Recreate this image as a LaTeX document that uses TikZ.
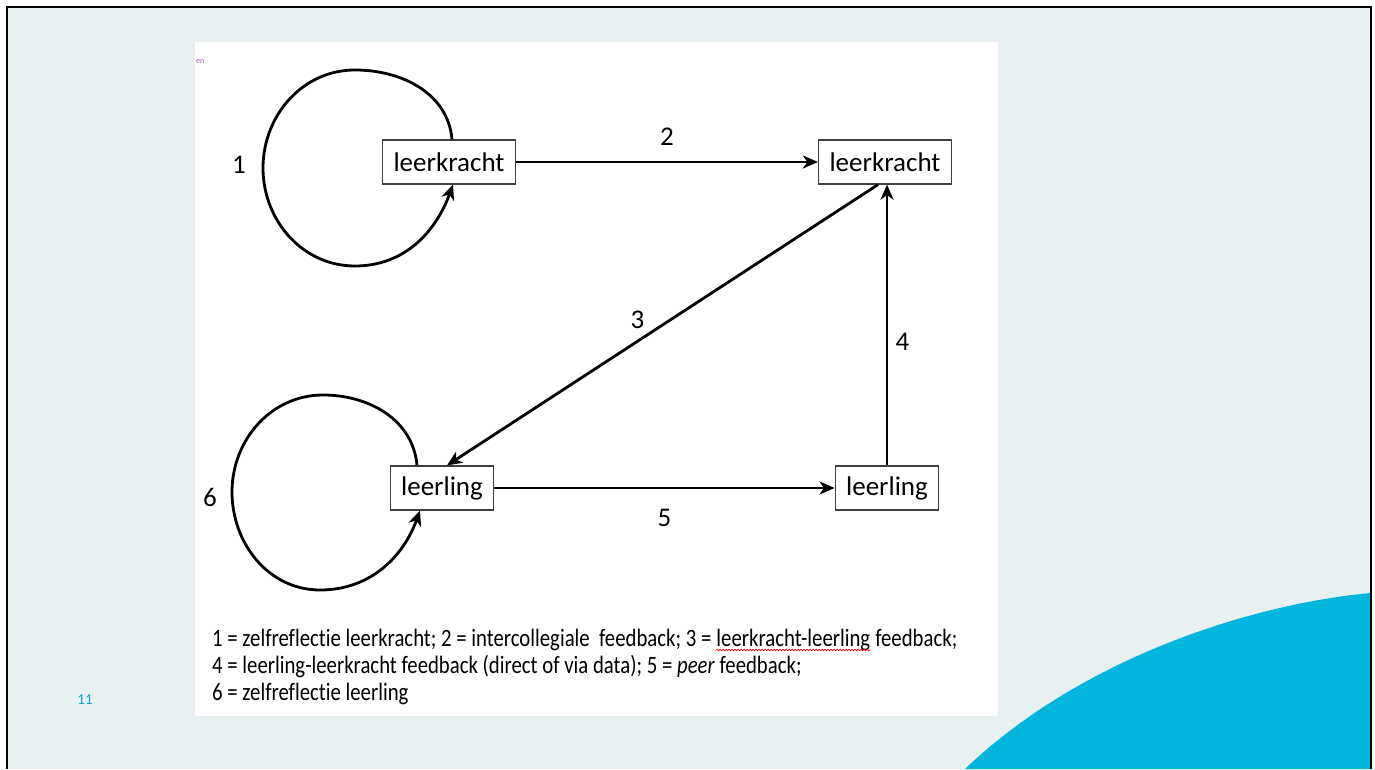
\documentclass[tikz,border=0pt]{standalone}
\usepackage{fontspec}
\setmainfont{Carlito}[Ligatures=NoCommon]
\newfontfamily\legendfont[FakeStretch=0.83, Ligatures=NoCommon]{Carlito}
\usepackage{xcolor}
\usetikzlibrary{arrows.meta,positioning,decorations.pathmorphing}
\definecolor{slidebg}{RGB}{232,240,242}
\definecolor{slideblue}{RGB}{0,182,221}
\definecolor{pagenum}{RGB}{0,169,206}
\definecolor{tagpurple}{RGB}{150,90,160}

\begin{document}
\begin{tikzpicture}[x=1pt, y=1pt,
    box/.style={draw=black!75, line width=1.2pt, fill=white, minimum height=44pt, inner xsep=11pt, font=\fontsize{27}{32}\selectfont},
    flow/.style={line width=2.8pt, -{Stealth[length=15pt, width=13pt, inset=4.5pt]}},
    num/.style={font=\fontsize{27}{32}\selectfont},
    legend/.style={inner sep=0pt, anchor=base west, font=\legendfont\fontsize{25}{30}\selectfont}]
    \useasboundingbox (0,0) rectangle (1375,769);
    % slide
    \fill[white] (0,0) rectangle (1375,769);
    \fill[slidebg] (7,0) rectangle (1371,762);
    \fill[slideblue] (965,0) .. controls (1080,110) and (1250,165) .. (1371,176) -- (1371,0) -- cycle;
    \draw[line width=2.5pt] (7,0) -- (7,762) -- (1371,762) -- (1371,0);
    \node[font=\fontsize{15}{17}\selectfont, text=pagenum] (pagenr) at (85,69) {11};
    % figure
    \fill[white] (195,53) rectangle (998,727);
    \node[font=\fontsize{8}{9}\selectfont, text=tagpurple, anchor=west, inner sep=0pt] (tag) at (196,707) {en};
    % nodes
    \node[box] (kr1) at (449,607) {leerkracht};
    \node[box] (kr2) at (885,607) {leerkracht};
    \node[box] (ll1) at (442,281) {leerling};
    \node[box] (ll2) at (887,281) {leerling};
    % arrows
    \draw[flow] (kr1) -- node[num, above=12pt] {2} (kr2);
    \draw[flow] ([xshift=-7pt]kr2.south) -- node[num, pos=0.48, left=22pt] {3} ([xshift=5pt]ll1.north);
    \draw[flow] (ll2.north) -- node[num, pos=0.44, right=4pt] {4} (ll2.north |- kr2.south);
    \draw[flow] (ll1) -- node[num, below=16pt] {5} (ll2);
    % loops
    \draw[flow] ([xshift=3pt]kr1.north) to[out=95, in=0] ([shift={(-94,92)}]kr1.center)
        to[out=180, in=90] ([shift={(-186,-6)}]kr1.center)
        to[out=-90, in=180] ([shift={(-94,-104)}]kr1.center)
        to[out=0, in=-110] ([xshift=4pt]kr1.south);
    \node[num] (lbl1) at (239,604) {1};
    \draw[flow] ([xshift=-25pt]ll1.north) to[out=95, in=0] ([shift={(-119,93)}]ll1.center)
        to[out=180, in=90] ([shift={(-210,-4)}]ll1.center)
        to[out=-90, in=180] ([shift={(-122,-102)}]ll1.center)
        to[out=0, in=-110] ([xshift=-22pt]ll1.south);
    \node[num] (lbl6) at (210,272) {6};
    % legend
    \node[legend] (leg1a) at (212,123) {1 = zelfreflectie leerkracht; 2 = intercollegiale~ feedback; 3 =\ \hbox{}};
    \node[legend] (leg1b) at (leg1a.base east) {leerkracht-leerling};
    \node[legend] (leg1c) at (leg1b.base east) {\ feedback;};
    \draw[red, line width=0.7pt, decorate, decoration={snake, amplitude=0.8pt, segment length=3pt}] ([yshift=-4pt]leg1b.base west) -- ([yshift=-4pt]leg1b.base east);
    \node[legend] (leg2) at (212,96) {4 = leerling-leerkracht feedback (direct of via data); 5 = \textit{peer} feedback;};
    \node[legend] (leg3) at (212,69) {6 = zelfreflectie leerling};
\end{tikzpicture}
\end{document}
